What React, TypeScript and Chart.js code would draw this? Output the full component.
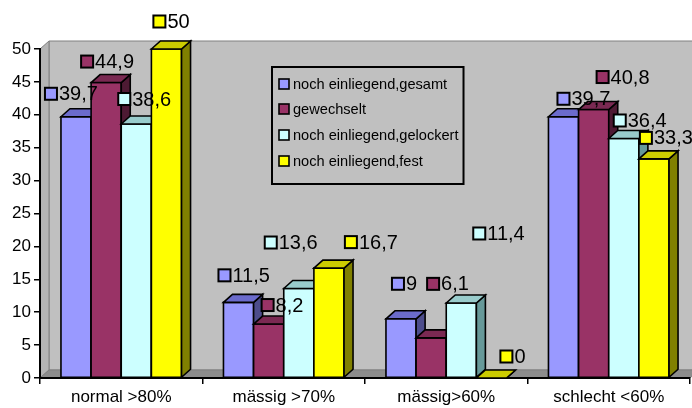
import React, { useEffect, useRef } from "react";
import { Chart, registerables } from "chart.js";

Chart.register(...registerables);

// ---- data ----
const categories = ["normal >80%", "mässig >70%", "mässig>60%", "schlecht <60%"];
const seriesNames = [
  "noch einliegend,gesamt",
  "gewechselt",
  "noch einliegend,gelockert",
  "noch einliegend,fest",
];
const gesamt = [39.7, 11.5, 9, 39.7];
const gewechselt = [44.9, 8.2, 6.1, 40.8];
const gelockert = [38.6, 13.6, 11.4, 36.4];
const fest = [50, 16.7, 0, 33.3];
const yMin = 0;
const yMax = 50;
const yStep = 5;

// ---- styles ----
const frontColors = ["#9999FF", "#993366", "#CCFFFF", "#FFFF00"];
const topColors = ["#6B6BCC", "#7A2952", "#99CCCC", "#CCCC00"];
const sideColors = ["#4D4D8C", "#4D1A33", "#669999", "#808000"];
// data label offsets [dx, dy] in px relative to bar front-left / bar top (label placement only)
const labelOffsets = [
  [[-17, -23], [-6, -27], [5, -35], [8, -18]],
  [[-11, -21], [7, -19], [10, -54], [17, -32.5]],
  [[-4, -25], [-20, -46], [26, -69.5], [4, -18]],
  [[1, -27.5], [30, -26], [23, -21.5], [0, -21]],
];
const FONT = "'Liberation Sans', Arial, sans-serif";
const DX = 9;
const DY = 8;

export default function App() {
  const ref = useRef<HTMLCanvasElement>(null);

  useEffect(() => {
    const canvas = ref.current!;
    const seriesValues = [gesamt, gewechselt, gelockert, fest];

    const poly = (ctx: CanvasRenderingContext2D, pts: number[][], fill: string, stroke: string, lw: number) => {
      ctx.beginPath();
      ctx.moveTo(pts[0][0], pts[0][1]);
      for (let k = 1; k < pts.length; k++) ctx.lineTo(pts[k][0], pts[k][1]);
      ctx.closePath();
      ctx.fillStyle = fill;
      ctx.fill();
      ctx.strokeStyle = stroke;
      ctx.lineWidth = lw;
      ctx.stroke();
    };

    const excel3d = {
      id: "excel3d",
      beforeDraw(chart: any) {
        const ctx: CanvasRenderingContext2D = chart.ctx;
        const a = chart.chartArea;
        ctx.save();
        // back wall
        poly(ctx, [
          [a.left + DX, a.top - DY],
          [a.right + DX + 20, a.top - DY],
          [a.right + DX + 20, a.bottom - DY],
          [a.left + DX, a.bottom - DY],
        ], "#C0C0C0", "#808080", 1);
        // left side wall
        poly(ctx, [
          [a.left, a.top],
          [a.left + DX, a.top - DY],
          [a.left + DX, a.bottom - DY],
          [a.left, a.bottom],
        ], "#B4B4B4", "#808080", 1);
        // floor
        poly(ctx, [
          [a.left, a.bottom],
          [a.left + DX, a.bottom - DY],
          [a.right + DX, a.bottom - DY],
          [a.right, a.bottom],
        ], "#8C8C8C", "#808080", 1);
        ctx.restore();
      },
      afterDatasetsDraw(chart: any) {
        const ctx: CanvasRenderingContext2D = chart.ctx;
        ctx.save();
        ctx.lineJoin = "miter";
        const n = categories.length;
        const bars: any[] = [];
        for (let i = 0; i < n; i++) {
          for (let d = 0; d < seriesValues.length; d++) {
            const el = chart.getDatasetMeta(d).data[i];
            const p = el.getProps(["x", "y", "base", "width"], true);
            const l = p.x - p.width / 2;
            const r = p.x + p.width / 2;
            const t = p.y;
            const b = p.base;
            bars.push({ d, i, l, r, t, b });
            // front
            poly(ctx, [[l, t], [r, t], [r, b], [l, b]], frontColors[d], "#000", 1.6);
            // side
            poly(ctx, [[r, t], [r + DX, t - DY], [r + DX, b - DY], [r, b]], sideColors[d], "#000", 1.6);
            // top
            poly(ctx, [[l, t], [l + DX, t - DY], [r + DX, t - DY], [r, t]], topColors[d], "#000", 1.6);
          }
        }
        // data labels
        ctx.font = `20px ${FONT}`;
        ctx.textBaseline = "middle";
        ctx.textAlign = "left";
        for (const bar of bars) {
          const v = seriesValues[bar.d][bar.i];
          const [ox, oy] = labelOffsets[bar.d][bar.i];
          const lx = bar.l + ox;
          const cy = bar.t + oy;
          ctx.fillStyle = frontColors[bar.d];
          ctx.fillRect(lx + 1, cy - 6, 12, 12);
          ctx.strokeStyle = "#000";
          ctx.lineWidth = 2;
          ctx.strokeRect(lx + 1, cy - 6, 12, 12);
          ctx.fillStyle = "#000";
          ctx.fillText(String(v).replace(".", ","), lx + 15, cy + 1);
        }
        ctx.restore();
      },
      afterDraw(chart: any) {
        const ctx: CanvasRenderingContext2D = chart.ctx;
        ctx.save();
        ctx.font = `14.6px ${FONT}`;
        let maxW = 0;
        for (const s of seriesNames) maxW = Math.max(maxW, ctx.measureText(s).width);
        const bx = 272;
        const by = 67;
        const textX = 293;
        const bw = textX + maxW + 5 - bx;
        const bh = 117;
        ctx.fillStyle = "#C0C0C0";
        ctx.fillRect(bx, by, bw, bh);
        ctx.strokeStyle = "#000";
        ctx.lineWidth = 2;
        ctx.strokeRect(bx, by, bw, bh);
        const rows = [84, 109, 135, 161];
        ctx.textBaseline = "middle";
        ctx.textAlign = "left";
        seriesNames.forEach((s, k) => {
          const cy = rows[k];
          ctx.fillStyle = frontColors[k];
          ctx.fillRect(279, cy - 5, 10, 10);
          ctx.strokeStyle = "#000";
          ctx.lineWidth = 1.6;
          ctx.strokeRect(279, cy - 5, 10, 10);
          ctx.fillStyle = "#000";
          ctx.fillText(s, textX, cy + 1);
        });
        ctx.restore();
      },
    };

    const chart = new Chart(canvas, {
      type: "bar",
      data: {
        labels: categories,
        datasets: seriesValues.map((vals, d) => ({
          label: seriesNames[d],
          data: vals,
          backgroundColor: "rgba(0,0,0,0)",
          borderWidth: 0,
          categoryPercentage: 0.742,
          barPercentage: 1,
        })),
      },
      options: {
        responsive: false,
        animation: false,
        events: [],
        layout: { padding: { top: 49, right: 2, left: 0, bottom: 0 } },
        plugins: {
          legend: { display: false },
          tooltip: { enabled: false },
        },
        scales: {
          x: {
            afterFit: (scale: any) => {
              scale.height = 30;
            },
            grid: {
              offset: true,
              drawOnChartArea: false,
              color: "#000",
              lineWidth: 1.5,
              tickLength: 6,
            },
            border: { display: true, color: "#000", width: 2 },
            ticks: {
              color: "#000",
              font: { family: FONT, size: 17 },
              padding: 3,
            },
          },
          y: {
            min: yMin,
            max: yMax,
            afterFit: (scale: any) => {
              scale.width = 40;
            },
            grid: {
              drawOnChartArea: false,
              color: "#000",
              lineWidth: 1.5,
              tickLength: 6,
            },
            border: { display: true, color: "#000", width: 2 },
            ticks: {
              stepSize: yStep,
              color: "#000",
              font: { family: FONT, size: 17 },
              padding: 3,
            },
          },
        },
      },
      plugins: [excel3d],
    } as any);

    return () => chart.destroy();
  }, []);

  return (
    <div style={{ position: "fixed", left: 0, top: 0, width: 692, height: 408, background: "#fff" }}>
      <canvas ref={ref} width={692} height={408} style={{ display: "block" }} />
    </div>
  );
}
